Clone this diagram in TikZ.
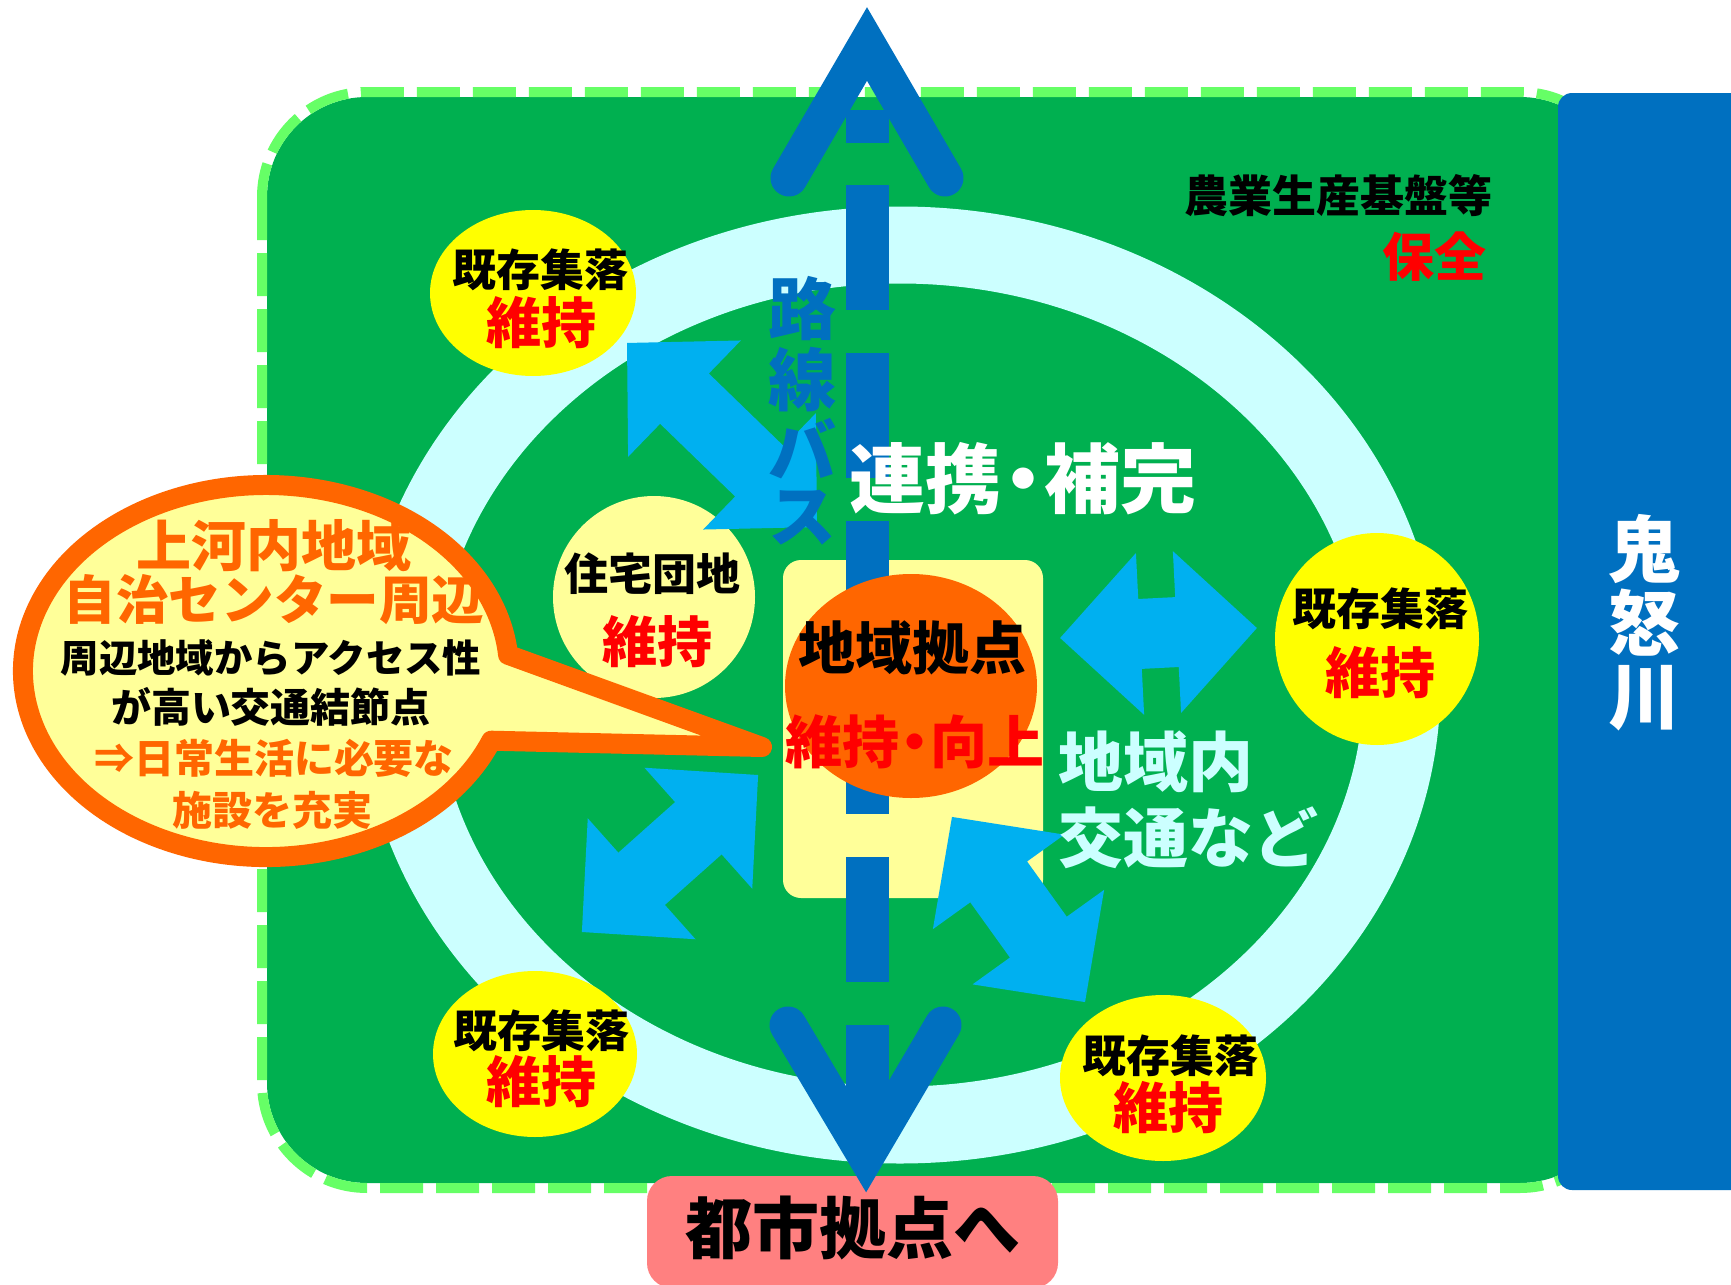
\documentclass[tikz,border=0pt]{standalone}
\usepackage{fontspec}
\setmainfont{Noto Sans CJK JP}
\definecolor{dkgreen}{HTML}{00B050}
\definecolor{ltgreen}{HTML}{66FF66}
\definecolor{ringc}{HTML}{CCFFFF}
\definecolor{river}{HTML}{0070C0}
\definecolor{arrowblue}{HTML}{00B0F0}
\definecolor{yel}{HTML}{FFFF00}
\definecolor{ltyellow}{HTML}{FFFF99}
\definecolor{orng}{HTML}{FF6600}
\definecolor{redc}{HTML}{FF0000}
\definecolor{pinkc}{HTML}{FF8080}
\newcommand\fsz[1]{\fontsize{#1}{#1}\selectfont}
\newcommand\ndot{\kern-0.22em・\kern-0.22em}
\newcommand\darrow[4]{%
  \fill[arrowblue, shift={(#1,#2)}, rotate=#3]
   ({-#4/2},0) -- ({-#4/2+80},-81) -- ({-#4/2+80},-35) -- ({#4/2-80},-35) -- ({#4/2-80},-81)
   -- ({#4/2},0) -- ({#4/2-80},81) -- ({#4/2-80},35) -- ({-#4/2+80},35) -- ({-#4/2+80},81) -- cycle;}
\tikzset{lbl/.style={inner sep=0pt, font=\bfseries}}
\begin{document}
\begin{tikzpicture}[x=0.5pt,y=-0.5pt]
\useasboundingbox (0,0) rectangle (1731,1285);
\fill[white] (0,0) rectangle (1731,1285);
% green area
\fill[dkgreen, rounded corners=50pt] (267,97) rectangle (1620,1183);
\draw[ltgreen, line width=5pt, dash pattern=on 21.5pt off 6.5pt, rounded corners=52.5pt] (262,92) rectangle (1625,1188);
% ring
\draw[ringc, line width=38.5pt] (900,685) ellipse [x radius=502, y radius=440];
% river
\fill[river, rounded corners=7pt] (1558,93) rectangle (1760,1190);
% central box
\fill[ltyellow, rounded corners=9pt] (783,560) rectangle (1043,898);
% bus line
\fill[river] (845.5,110) rectangle (888.5,143);
\draw[river, line width=21.5pt, dash pattern=on 62.5pt off 21.5pt] (867,185) -- (867,1160);
% yellow circles
\fill[yel] (533,293) ellipse [x radius=103, y radius=83];
\fill[yel] (1377,639) ellipse [x radius=102, y radius=106];
\fill[yel] (535,1054) ellipse [x radius=102, y radius=83];
\fill[yel] (1163,1078) ellipse [x radius=103, y radius=83];
\fill[ltyellow] (654,597) circle [radius=101];
% light blue double arrows
\darrow{722}{435}{-44.1}{264.5}
\darrow{1158.5}{633}{2.9}{197}
\darrow{670}{853.5}{41.7}{236}
\darrow{1018.5}{909.5}{-54.3}{228}
% orange hub
\fill[orng] (911,686) ellipse [x radius=126, y radius=112];
% callout
\filldraw[fill=ltyellow, draw=orng, line width=10pt, line join=round]
  (491.3,740.7) arc[start angle=22, end angle=355, x radius=243, y radius=186] -- (762,747) -- cycle;
% city box
\fill[pinkc, rounded corners=12.5pt] (647,1176) rectangle (1058,1288);
% arrow heads
\draw[river, line width=18.5pt, line cap=round, line join=miter] (789,178) -- (867,44) -- (945,178);
\draw[river, line width=18.5pt, line cap=round, line join=miter] (788,1025) -- (866,1156) -- (943,1025);
% texts
\node[lbl, text=white] (rv1) at (1644,549) {\fsz{36pt}鬼};
\node[lbl, text=white] (rv2) at (1644,623) {\fsz{36pt}怒};
\node[lbl, text=white] (rv3) at (1644,698) {\fsz{36pt}川};
\node[lbl, anchor=east] (agri) at (1493,196) {\fsz{22pt}農業生産基盤等};
\node[lbl, anchor=east, text=redc] (hozen) at (1487,257) {\fsz{26pt}保全};
\node[lbl, text=river] (bus1) at (802,309) {\fsz{34pt}路};
\node[lbl, text=river] (bus2) at (802,380) {\fsz{34pt}線};
\node[lbl, text=river] (bus3) at (802,449) {\fsz{34pt}バ};
\node[lbl, text=river] (bus4) at (802,518) {\fsz{34pt}ス};
\node[lbl, text=white] (renkei) at (1023,479) {\fsz{38pt}連携\ndot 補完};
\node[lbl] (k1a) at (540,270) {\fsz{22pt}既存集落};
\node[lbl, text=redc] (k1b) at (541,323) {\fsz{27.5pt}維持};
\node[lbl] (k2a) at (1380,609) {\fsz{22pt}既存集落};
\node[lbl, text=redc] (k2b) at (1380,673) {\fsz{27.5pt}維持};
\node[lbl] (k3a) at (541,1031) {\fsz{22pt}既存集落};
\node[lbl, text=redc] (k3b) at (541,1082) {\fsz{27.5pt}維持};
\node[lbl] (k4a) at (1170,1056) {\fsz{22pt}既存集落};
\node[lbl, text=redc] (k4b) at (1168,1108) {\fsz{27.5pt}維持};
\node[lbl] (jt1) at (652,574) {\fsz{22pt}住宅団地};
\node[lbl, text=redc] (jt2) at (657,642) {\fsz{27.5pt}維持};
\node[lbl] (hub1) at (912,648) {\fsz{28.5pt}地域拠点};
\node[lbl, text=redc] (hub2) at (915,742) {\fsz{28.5pt}維持\ndot 向上};
\node[lbl, text=ringc, anchor=west] (loc1) at (1058,762) {\fsz{32.5pt}地域内};
\node[lbl, text=ringc, anchor=west] (loc2) at (1058,838) {\fsz{32.5pt}交通など};
\node[lbl] (city) at (853,1228) {\fsz{33.5pt}都市拠点へ};
\node[lbl, text=orng] (c1) at (274,546) {\fsz{27.5pt}上河内地域};
\node[lbl, text=orng] (c2) at (274,600) {\fsz{26.3pt}自治センター周辺};
\node[lbl] (c3) at (271,658) {\fsz{19.2pt}周辺地域からアクセス性};
\node[lbl] (c4) at (271,707) {\fsz{20pt}が高い交通結節点};
\node[lbl, text=orng] (c5) at (274,758) {\fsz{20pt}⇒日常生活に必要な};
\node[lbl, text=orng] (c6) at (272,810) {\fsz{20pt}施設を充実};
\end{tikzpicture}
\end{document}
